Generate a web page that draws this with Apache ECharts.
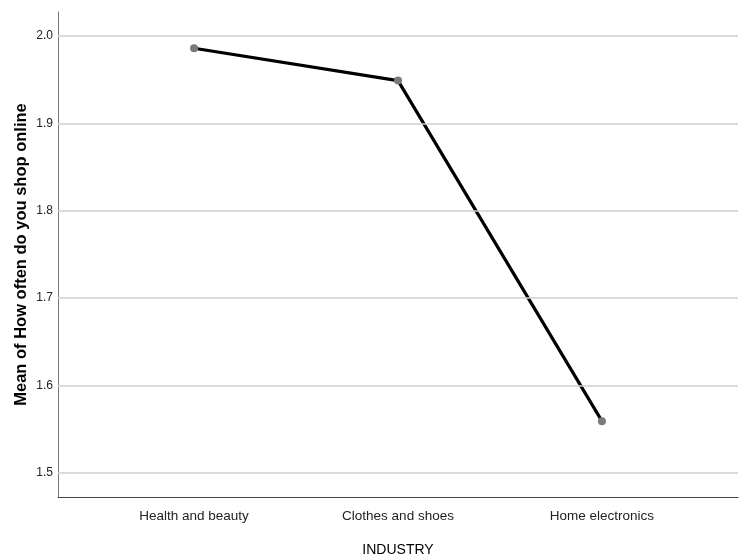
<!DOCTYPE html>
<html>
<head>
<meta charset="utf-8">
<script src="https://cdn.jsdelivr.net/npm/echarts@6/dist/echarts.min.js"></script>
<style>html,body{margin:0;padding:0;background:#fff}#c{width:744px;height:559px}</style>
</head>
<body>
<div id="c"></div>
<script>
var categories = ['Health and beauty', 'Clothes and shoes', 'Home electronics'];
var meanValues = [1.986, 1.949, 1.559];
var yTicks = [1.5, 1.6, 1.7, 1.8, 1.9, 2.0];
var categoryIndex = [0, 1, 2];

var sans = '"Liberation Sans", Arial, sans-serif';
var chart = echarts.init(document.getElementById('c'));
chart.setOption({
  animation: false,
  backgroundColor: '#fff',
  grid: { left: 58, right: 6, top: 12, bottom: 62, containLabel: false, outerBoundsMode: 'none' },
  xAxis: {
    type: 'value', min: -0.667, max: 2.667,
    name: 'INDUSTRY', nameLocation: 'middle', nameGap: 53,
    nameTextStyle: { fontFamily: sans, fontSize: 14, color: '#000', verticalAlign: 'middle' },
    axisLine: { show: true, onZero: false, lineStyle: { color: '#444', width: 1 } },
    axisTick: { show: false },
    splitLine: { show: false },
    axisLabel: {
      customValues: categoryIndex,
      formatter: function (v) { return categories[Math.round(v)]; },
      fontFamily: sans, fontSize: 13.5, color: '#222', margin: 12
    }
  },
  yAxis: {
    type: 'value', min: 1.4722, max: 2.0275,
    name: 'Mean of How often do you shop online', nameLocation: 'middle', nameGap: 37,
    nameMoveOverlap: false,
    nameTextStyle: { fontFamily: sans, fontSize: 16.5, fontWeight: 'bold', color: '#000', verticalAlign: 'middle' },
    axisLine: { show: true, onZero: false, lineStyle: { color: '#777', width: 1 } },
    axisTick: { show: false },
    splitLine: { show: false },
    axisLabel: {
      customValues: yTicks,
      formatter: function (v) { return v.toFixed(1); },
      fontFamily: sans, fontSize: 12, color: '#222', margin: 5
    }
  },
  series: [
    {
      type: 'line', data: [], z: 1, silent: true,
      markLine: {
        silent: true, symbol: 'none', label: { show: false },
        lineStyle: { color: '#cfcfcf', width: 1.5, type: 'solid' },
        data: yTicks.map(function (t) { return { yAxis: t }; })
      }
    },
    {
      type: 'line', z: 3,
      data: categoryIndex.map(function (i) { return [i, meanValues[i]]; }),
      lineStyle: { color: '#000', width: 3.2 },
      symbol: 'circle', symbolSize: 8,
      itemStyle: { color: '#7a7a7a' }
    }
  ]
});
</script>
</body>
</html>
